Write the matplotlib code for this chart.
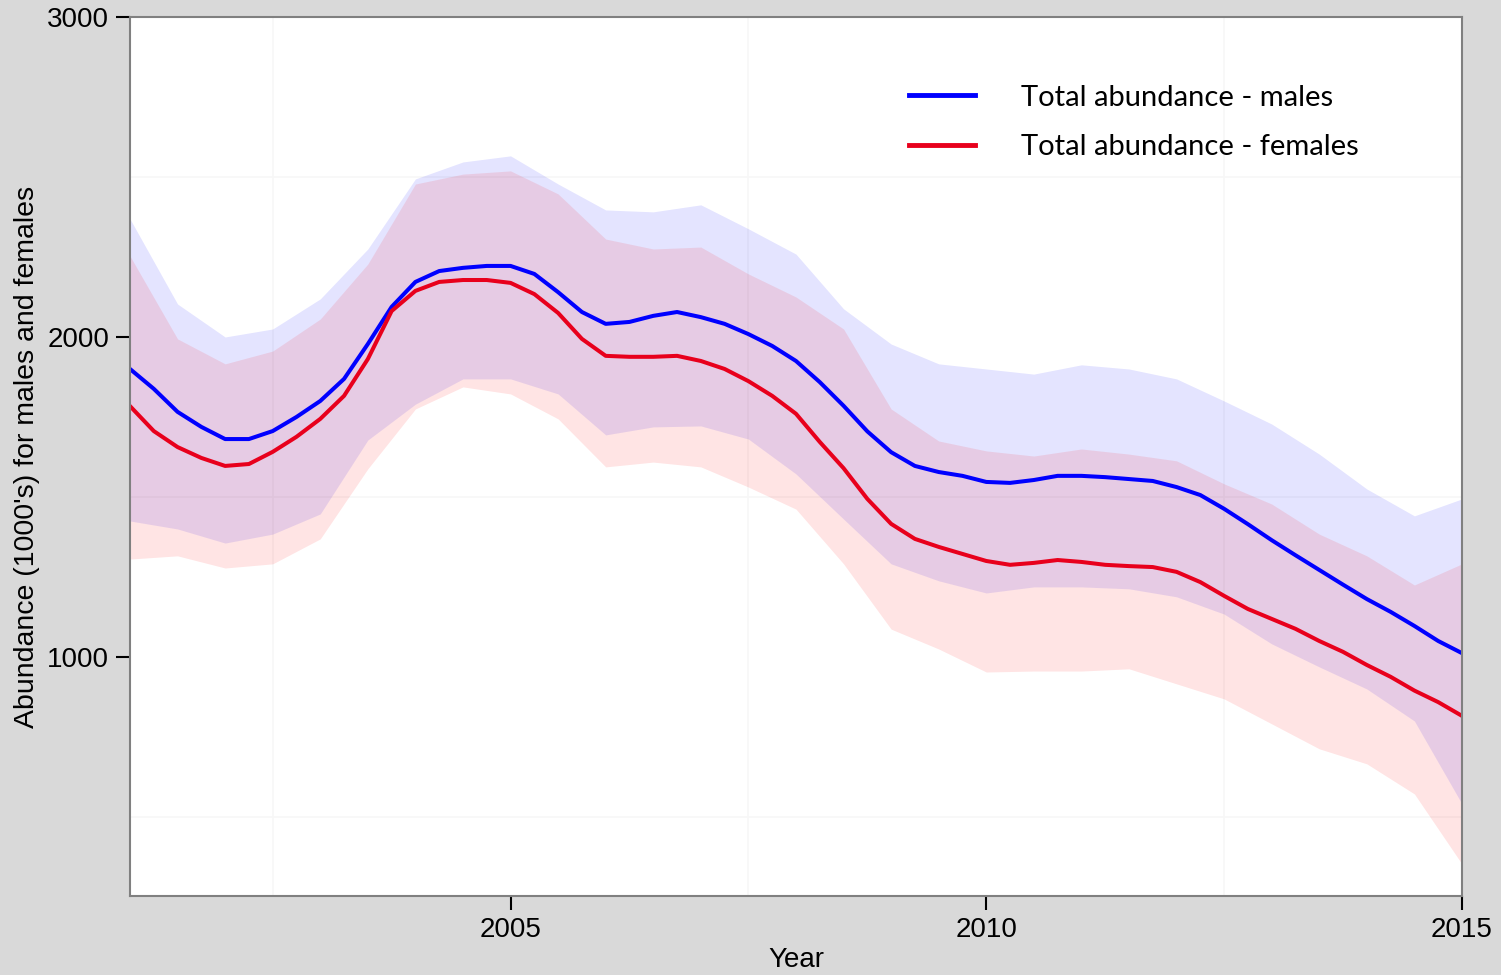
import matplotlib
matplotlib.use("Agg")
import matplotlib.pyplot as plt

# quarter-year points for the two abundance lines
line_years = [2001 + 0.25 * i for i in range(57)]

males = [1900, 1838, 1766, 1719, 1681, 1681, 1706, 1750, 1800, 1869,
         1978, 2094, 2172, 2206, 2216, 2222, 2222, 2197, 2140, 2078,
         2041, 2047, 2066, 2078, 2062, 2041, 2009, 1972, 1925, 1859,
         1785, 1705, 1640, 1597, 1578, 1566, 1547, 1544, 1553, 1566,
         1566, 1562, 1556, 1550, 1531, 1506, 1463, 1415, 1365, 1318,
         1272, 1226, 1181, 1141, 1097, 1050, 1012]

females = [1784, 1706, 1656, 1622, 1597, 1603, 1641, 1688, 1744, 1816,
           1931, 2081, 2144, 2172, 2178, 2178, 2169, 2134, 2075, 1994,
           1941, 1938, 1938, 1941, 1925, 1900, 1862, 1816, 1760, 1672,
           1590, 1494, 1416, 1369, 1344, 1322, 1300, 1288, 1294, 1303,
           1297, 1288, 1284, 1281, 1266, 1234, 1191, 1150, 1119, 1088,
           1050, 1016, 975, 938, 895, 859, 816]

# half-year points for the interval bands
band_years = [2001 + 0.5 * i for i in range(29)]

males_hi = [2369, 2103, 2000, 2025, 2119, 2275, 2494, 2547, 2566,
            2478, 2397, 2391, 2413, 2338, 2259, 2088, 1978, 1916,
            1900, 1884, 1913, 1900, 1869, 1800, 1728, 1634, 1525,
            1441, 1494]
males_lo = [1425, 1400, 1356, 1384, 1447, 1678, 1790, 1869, 1869,
            1822, 1694, 1719, 1722, 1681, 1572, 1431, 1291, 1238,
            1200, 1219, 1219, 1213, 1188, 1134, 1041, 969, 900,
            800, 541]
females_hi = [2253, 1994, 1916, 1956, 2056, 2228, 2478, 2509, 2519,
              2447, 2306, 2275, 2281, 2197, 2125, 2025, 1775, 1675,
              1644, 1628, 1650, 1634, 1613, 1541, 1478, 1384, 1316,
              1225, 1291]
females_lo = [1306, 1316, 1278, 1291, 1369, 1588, 1775, 1844, 1822,
              1744, 1594, 1609, 1594, 1531, 1462, 1291, 1087, 1025,
              953, 956, 956, 963, 916, 869, 791, 713, 666,
              572, 353]

plt.rcParams['font.family'] = ['Liberation Sans', 'DejaVu Sans']

fig = plt.figure(figsize=(15.01, 9.75), dpi=100, facecolor='#d9d9d9')
ax = fig.add_axes([0.0866, 0.081, 0.8874, 0.9016])
ax.set_facecolor('white')

ax.fill_between(band_years, males_lo, males_hi, color='#0000ff', alpha=0.105, lw=0)
ax.fill_between(band_years, females_lo, females_hi, color='#ff0000', alpha=0.105, lw=0)
ax.plot(line_years, males, color='#0000ff', lw=2.9, label='Total abundance - males',
        solid_joinstyle='round')
ax.plot(line_years, females, color='#e8001c', lw=2.9, label='Total abundance - females',
        solid_joinstyle='round')

ax.set_xlim(2001, 2015)
ax.set_ylim(253, 3000)
ax.set_xticks([2005, 2010, 2015])
ax.set_yticks([1000, 2000, 3000])
ax.set_xticks([2002.5, 2007.5, 2012.5], minor=True)
ax.set_yticks([500, 1500, 2500], minor=True)
ax.grid(which='minor', color='#f7f7f7', lw=1.2)
ax.set_axisbelow(True)
ax.tick_params(which='major', direction='out', length=10, width=1.5,
               color='black', labelsize=20, pad=5)
ax.tick_params(which='minor', length=0)
for s in ax.spines.values():
    s.set_color('#808080')
    s.set_linewidth(1.5)

ax.set_xlabel('Year', fontsize=20, labelpad=3)
ax.set_ylabel("Abundance (1000's) for males and females", fontsize=20.5, labelpad=5)

leg = ax.legend(loc='upper left', bbox_to_anchor=(0.565, 0.953), frameon=False,
                prop={'family': 'Lato', 'size': 21}, handlelength=2.26,
                handletextpad=1.6, labelspacing=0.82)
for h in leg.get_lines():
    h.set_linewidth(3.5)

fig.savefig('out.png', dpi=100, facecolor=fig.get_facecolor())
